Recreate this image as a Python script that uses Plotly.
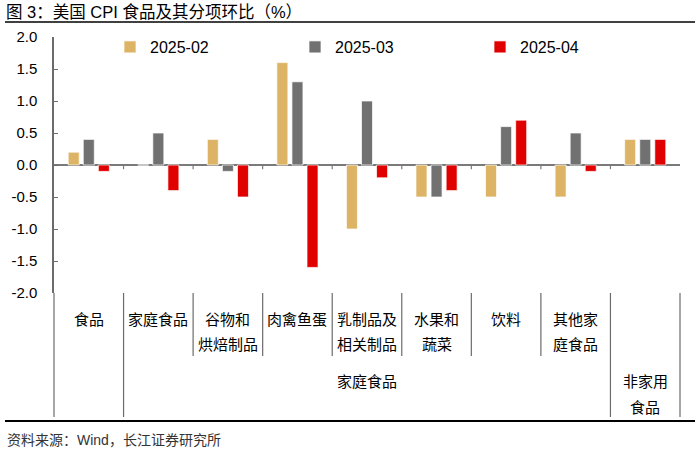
import plotly.graph_objects as go

categories = ["食品", "家庭食品", "谷物和烘焙制品", "肉禽鱼蛋", "乳制品及相关制品",
              "水果和蔬菜", "饮料", "其他家庭食品", "非家用食品"]
label_row1 = ["食品", "家庭食品", "谷物和", "肉禽鱼蛋", "乳制品及", "水果和", "饮料", "其他家", ""]
label_row2 = ["", "", "烘焙制品", "", "相关制品", "蔬菜", "", "庭食品", ""]
series_names = ["2025-02", "2025-03", "2025-04"]
v_feb = [0.2, 0.0, 0.4, 1.6, -1.0, -0.5, -0.5, -0.5, 0.4]
v_mar = [0.4, 0.5, -0.1, 1.3, 1.0, -0.5, 0.6, 0.5, 0.4]
v_apr = [-0.1, -0.4, -0.5, -1.6, -0.2, -0.4, 0.7, -0.1, 0.4]
colors = ["#DDB466", "#717171", "#E00000"]
y_ticks = [2.0, 1.5, 1.0, 0.5, 0.0, -0.5, -1.0, -1.5, -2.0]

CJK = "Noto Sans CJK SC, Noto Sans, sans-serif"
MIX = "Liberation Sans, Noto Sans CJK SC, sans-serif"
NUM = "Liberation Sans, Arial, sans-serif"

fig = go.Figure()
for name, vals, c in zip(series_names, [v_feb, v_mar, v_apr], colors):
    fig.add_trace(go.Bar(x=categories, y=vals, name=name, marker_color=c,
                         marker_line=dict(color="rgba(255,255,255,0.7)", width=1)))

n = len(categories)
# plot area in window pixels: x 54..680, y 37..293
PL, PR, PT, PB = 54, 680, 37, 293
W, H = 700, 460
L, T = PL, PT
R, B = W - PR, H - PB
pw, ph = PR - PL, PB - PT

def py(px):  # window pixel y -> paper y
    return (PB - px) / ph

def pxx(px):
    return (px - PL) / pw

shapes = []
for i in range(1, n):
    shapes.append(dict(type="line", xref="x domain", yref="y", x0=i / n, x1=i / n,
                       y0=0, y1=-0.065, line=dict(color="#7a7a7a", width=1.2)))
long_idx = [0, 1, n - 1, n]
for i in range(0, n + 1):
    y1 = py(417) if i in long_idx else py(356)
    shapes.append(dict(type="line", xref="x domain", yref="paper", x0=i / n, x1=i / n,
                       y0=0, y1=y1, line=dict(color="#6b6b6b", width=1.2)))
shapes.append(dict(type="line", xref="paper", yref="paper", x0=pxx(5), x1=pxx(695),
                   y0=py(22), y1=py(22), line=dict(color="#000000", width=1.5)))
shapes.append(dict(type="line", xref="paper", yref="paper", x0=pxx(5), x1=pxx(695),
                   y0=py(421), y1=py(421), line=dict(color="#000000", width=2.2)))

lab_font = dict(family=CJK, size=15, color="#000")
annotations = []

def ann(**kw):
    base = dict(showarrow=False, xanchor="center", yanchor="middle", yref="paper")
    base.update(kw)
    annotations.append(base)

for cat, r1, r2 in zip(categories, label_row1, label_row2):
    if r1:
        ann(x=cat, xref="x", y=py(318), text=r1, font=lab_font)
    if r2:
        ann(x=cat, xref="x", y=py(343), text=r2, font=lab_font)
ann(x=(1 + (n - 1)) / 2 / n, xref="x domain", y=py(380), text="家庭食品", font=lab_font)
ann(x=(n - 0.5) / n, xref="x domain", y=py(380), text="非家用", font=lab_font)
ann(x=(n - 0.5) / n, xref="x domain", y=py(406), text="食品", font=lab_font)
ann(x=pxx(4), xref="paper", y=py(12), xanchor="left",
    text="图 3：美国 CPI 食品及其分项环比（%）", font=dict(family=MIX, size=16.5, color="#000"))
ann(x=pxx(5), xref="paper", y=py(440), xanchor="left",
    text="资料来源：Wind，长江证券研究所", font=dict(family=MIX, size=14, color="#333"))

fig.update_layout(
    width=W, height=H,
    margin=dict(l=L, r=R, t=T, b=B, autoexpand=False),
    paper_bgcolor="white", plot_bgcolor="white",
    barmode="group", bargap=0.35, bargroupgap=0.27,
    showlegend=True,
    legend=dict(orientation="h", x=pxx(110), y=py(47), yanchor="middle", xanchor="left",
                entrywidth=140, entrywidthmode="pixels", tracegroupgap=0,
                font=dict(family=NUM, size=16, color="#000"), bgcolor="rgba(0,0,0,0)"),
    xaxis=dict(range=[-0.5, n - 0.5], showticklabels=False, showgrid=False,
               zeroline=False, showline=False, ticks="", automargin=False),
    yaxis=dict(range=[-2.0, 2.0], tickvals=y_ticks, ticktext=[f"{v:.1f}" for v in y_ticks],
               showgrid=False, zeroline=True, zerolinecolor="#7a7a7a", zerolinewidth=1.5,
               showline=True, linecolor="#6b6b6b", linewidth=1.5,
               ticks="inside", ticklen=4, tickcolor="#6b6b6b", tickwidth=1.2,
               ticklabelstandoff=12, automargin=False,
               tickfont=dict(family=NUM, size=15, color="#000")),
    shapes=shapes, annotations=annotations,
)

fig.write_html("out.html", config={"displayModeBar": False},
               post_script="document.body.style.margin='0';")
